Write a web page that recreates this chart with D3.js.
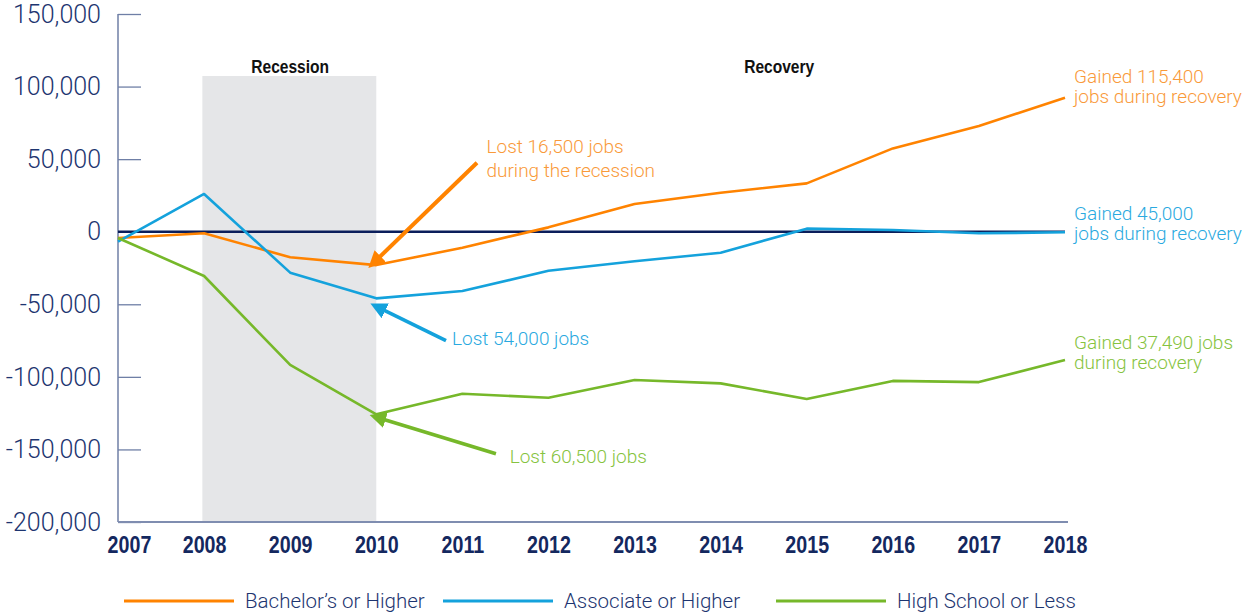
<!DOCTYPE html>
<html><head><meta charset="utf-8">
<script src="https://cdn.jsdelivr.net/npm/d3@7"></script>
<style>
body{margin:0;background:#fff;}
svg{display:block;}
.cond{font-family:"Liberation Sans",Arial,sans-serif;font-weight:bold;}
.light{font-family:Roboto,"Liberation Sans",sans-serif;font-weight:300;}
</style></head>
<body>
<svg id="c" width="1246" height="614"></svg>
<script>
const years = [2007,2008,2009,2010,2011,2012,2013,2014,2015,2016,2017,2018];
const bachelors = [-4300,-1100,-17600,-23000,-11000,3000,19100,26900,33300,57400,72800,92300];
const associate = [-6900,26000,-28200,-45900,-40900,-26900,-20400,-14500,2100,1200,-1100,-400];
const highSchool = [-4300,-30500,-91800,-125800,-111600,-114400,-102200,-104500,-115300,-102800,-103600,-88400];
const yTicks = [150000,100000,50000,0,-50000,-100000,-150000,-200000];
const seriesNames = ["Bachelor\u2019s or Higher","Associate or Higher","High School or Less"];
const seriesColors = ["#ff8300","#14a2dc","#76b82a"];
const textColors = ["#f99a3a","#2aa9e0","#86c340"];
const recession = [2007.98,2010];
const recessionTop = 107300;
const periodLabels = [{t:"Recession",x:2009},{t:"Recovery",x:2014.68}];
const lossNotes = [
  {lines:["Lost 16,500 jobs","during the recession"], from:[2011.17,47500], to:[2010.02,-18500], text:[2011.28,54200]},
  {lines:["Lost 54,000 jobs"], from:[2010.81,-75000], to:[2010.07,-53500], text:[2010.88,-78000]},
  {lines:["Lost 60,500 jobs"], from:[2011.39,-153000], to:[2010.07,-129000], text:[2011.55,-159300]}
];
const gainNotes = [
  ["Gained 115,400","jobs during recovery"],
  ["Gained 45,000","jobs during recovery"],
  ["Gained 37,490 jobs","during recovery"]
];
const gainY = [102400,8000,-80800];

const svg = d3.select("#c");
const x = d3.scaleLinear().domain([2007,2018]).range([118,1065]);
const y = d3.scaleLinear().domain([-200000,150000]).range([522,14]);
const axisCol = "#6f7fa6", navy = "#14285f";
const SX = 0.82;

// recession shading
svg.append("rect").attr("x",x(recession[0])).attr("width",x(recession[1])-x(recession[0]))
  .attr("y",y(recessionTop)).attr("height",y(-200000)-y(recessionTop)).attr("fill","#e5e6e8");

// y axis
const yAxis = d3.axisRight(y).tickValues(yTicks).tickSize(23).tickFormat("");
const gy = svg.append("g").attr("transform","translate(118,0)").call(yAxis);
gy.select(".domain").remove();
gy.selectAll(".tick line").attr("stroke",axisCol).attr("stroke-width",1.3);
svg.append("line").attr("x1",118).attr("x2",118).attr("y1",y(150000)).attr("y2",y(-200000)).attr("stroke",axisCol).attr("stroke-width",1.5);
svg.append("g").selectAll("text").data(yTicks).join("text").attr("class","light")
  .attr("x",101).attr("y",d=>y(d)).attr("dy","0.35em").attr("text-anchor","end")
  .attr("font-size",25).attr("fill","#1d3570").text(d=>d3.format(",")(d).replace("\u2212","-"));

// x axis
svg.append("line").attr("x1",118).attr("x2",1068).attr("y1",y(-200000)).attr("y2",y(-200000)).attr("stroke","#7f8db0").attr("stroke-width",2);
const xAxis = d3.axisBottom(x).tickValues(years).tickSize(0).tickFormat(d3.format("d"));
const gx = svg.append("g").attr("transform","translate(0,522)").call(xAxis);
gx.select(".domain").remove();
gx.selectAll(".tick text").attr("class","cond").attr("font-size",24).attr("fill",navy).attr("dy",0).attr("y",0)
  .attr("transform",(d,i)=>`translate(${i===0?11:0},31) scale(${SX},1)`);

// zero line
svg.append("line").attr("x1",x(2007)).attr("x2",x(2018)).attr("y1",y(0)).attr("y2",y(0)).attr("stroke","#0b1e5b").attr("stroke-width",2.5);

// period labels
svg.selectAll(".plab").data(periodLabels).join("text").attr("class","cond")
  .attr("transform",d=>`translate(${x(d.x)},73) scale(${SX},1)`).attr("text-anchor","middle").attr("font-size",19).attr("fill","#111").text(d=>d.t);

// series lines
const line = d3.line().x((d,i)=>x(years[i])).y(d=>y(d));
[bachelors,associate,highSchool].forEach((s,i)=>{
  svg.append("path").attr("d",line(s)).attr("fill","none").attr("stroke",seriesColors[i]).attr("stroke-width",2.6).attr("stroke-linejoin","round");
});

// arrows
const defs = svg.append("defs");
seriesColors.forEach((c,i)=>{
  defs.append("marker").attr("id","ah"+i).attr("viewBox","0 0 10 10").attr("refX",2).attr("refY",5)
    .attr("markerWidth",i===0?4.2:4.6).attr("markerHeight",i===0?4.2:4.6).attr("orient","auto").attr("markerUnits","strokeWidth")
    .append("path").attr("d","M0,0 L10,5 L0,10 Z").attr("fill",c);
});
lossNotes.forEach((n,i)=>{
  const x1=x(n.from[0]), y1=y(n.from[1]), x2=x(n.to[0]), y2=y(n.to[1]);
  svg.append("line").attr("x1",x1).attr("y1",y1).attr("x2",x2).attr("y2",y2)
    .attr("stroke",seriesColors[i]).attr("stroke-width",i===0?4:3.6).attr("marker-end","url(#ah"+i+")");
  const t = svg.append("text").attr("class","light").attr("font-size",19).attr("fill",textColors[i])
    .attr("x",x(n.text[0])).attr("y",y(n.text[1]));
  n.lines.forEach((l,j)=>t.append("tspan").attr("x",x(n.text[0])).attr("dy",j===0?0:24).text(l));
});

// gain notes
gainNotes.forEach((g,i)=>{
  const t = svg.append("text").attr("class","light").attr("font-size",19).attr("fill",textColors[i])
    .attr("x",1074).attr("y",y(gainY[i]));
  g.forEach((l,j)=>t.append("tspan").attr("x",1074).attr("dy",j===0?0:20).text(l));
});

// legend
const legX = [124,443,776];
seriesNames.forEach((n,i)=>{
  svg.append("line").attr("x1",legX[i]).attr("x2",legX[i]+110).attr("y1",601).attr("y2",601).attr("stroke",seriesColors[i]).attr("stroke-width",3);
  svg.append("text").attr("class","light").attr("x",legX[i]+121).attr("y",601).attr("dy","0.35em")
    .attr("font-size",20.5).attr("fill","#1d3570").text(n);
});
</script>
</body></html>
